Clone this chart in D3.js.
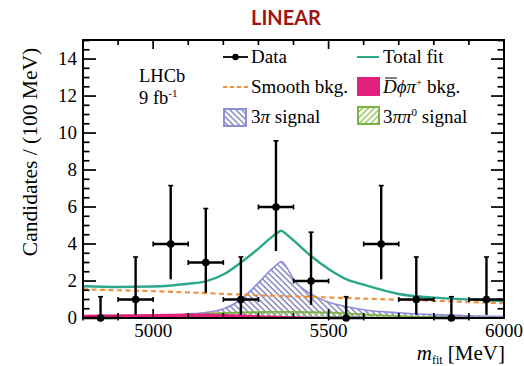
<!DOCTYPE html>
<html>
<head>
<meta charset="utf-8">
<script src="https://cdn.jsdelivr.net/npm/d3@7"></script>
<style>
body { margin: 0; background: #fff; }
text { font-family: "Liberation Serif", "Times New Roman", serif; }
</style>
</head>
<body>
<div class="canva"></div>
<script>
// data points (100 MeV bins)
const binCenters = [4850, 4950, 5050, 5150, 5250, 5350, 5450, 5550, 5650, 5750, 5850, 5950];
const counts     = [0, 1, 4, 3, 1, 6, 2, 0, 4, 1, 0, 1];
const errLow     = [0, 0.83, 1.91, 1.63, 0.83, 2.38, 1.29, 0, 1.91, 0.83, 0, 0.83];
const errHigh    = [1.15, 2.30, 3.16, 2.92, 2.30, 3.58, 2.64, 1.15, 3.16, 2.30, 1.15, 2.30];

// fit components
const massGrid   = [4800, 4900, 5000, 5100, 5150, 5200, 5250, 5300, 5330, 5350, 5365, 5380, 5400, 5450, 5500, 5550, 5600, 5700, 5800, 5900, 6000];
const totalFit   = [1.72, 1.68, 1.70, 1.85, 1.98, 2.35, 3.00, 3.75, 4.25, 4.55, 4.72, 4.52, 4.20, 3.35, 2.65, 2.10, 1.80, 1.30, 1.10, 1.00, 0.92];
const smoothBkg  = [1.55, 1.50, 1.45, 1.38, 1.35, 1.30, 1.27, 1.23, 1.21, 1.20, 1.19, 1.18, 1.17, 1.14, 1.11, 1.08, 1.05, 0.99, 0.93, 0.86, 0.80];
const sig3pi     = [0.03, 0.06, 0.12, 0.22, 0.30, 0.48, 1.00, 1.90, 2.50, 2.85, 3.05, 2.75, 2.10, 1.30, 0.85, 0.62, 0.45, 0.28, 0.18, 0.12, 0.08];
const sig3pipi0  = [0.02, 0.04, 0.08, 0.16, 0.22, 0.27, 0.30, 0.32, 0.33, 0.33, 0.33, 0.33, 0.33, 0.32, 0.30, 0.25, 0.20, 0.10, 0.05, 0.02, 0.01];
const dPhiPiBkg  = [0.18, 0.20, 0.22, 0.25, 0.24, 0.22, 0.19, 0.15, 0.13, 0.12, 0.11, 0.10, 0.09, 0.07, 0.05, 0.03, 0.00, 0.00, 0.00, 0.00, 0.00];

const yTicks = [0, 2, 4, 6, 8, 10, 12, 14];
const xTicks = [5000, 5500, 6000];

const svg = d3.select(".canva").append("svg")
  .attr("width", 524)
  .attr("height", 366);

const plot = {left: 83, right: 504, top: 40, bottom: 318};

const x = d3.scaleLinear().domain([4800, 6000]).range([plot.left, plot.right]);
const y = d3.scaleLinear().domain([0, 15.03]).range([plot.bottom, plot.top]);

// title
svg.append("text")
  .attr("x", 286).attr("y", 25)
  .attr("text-anchor", "middle")
  .style("font-family", "Lato, sans-serif")
  .style("font-weight", "bold")
  .style("font-size", "20px")
  .style("fill", "#a01414")
  .text("LINEAR");

// hatch patterns
const defs = svg.append("defs");
function hatch(id, color, angle) {
  const p = defs.append("pattern")
    .attr("id", id)
    .attr("patternUnits", "userSpaceOnUse")
    .attr("width", 4.2).attr("height", 4.2)
    .attr("patternTransform", `rotate(${angle})`);
  p.append("line")
    .attr("x1", 1).attr("y1", 0).attr("x2", 1).attr("y2", 4.2)
    .attr("stroke", color).attr("stroke-width", 1.3);
}
hatch("hatchPurple", "#7676b8", -45);
hatch("hatchGreen", "#8cc152", 45);

defs.append("clipPath").attr("id", "plotClip")
  .append("rect")
  .attr("x", plot.left).attr("y", plot.top)
  .attr("width", plot.right - plot.left).attr("height", plot.bottom - plot.top);

const g = svg.append("g").attr("clip-path", "url(#plotClip)");

const idx = d3.range(massGrid.length);
function area(vals) {
  return d3.area()
    .x(i => x(massGrid[i]))
    .y0(y(0))
    .y1(i => y(vals[i]))
    .curve(d3.curveMonotoneX);
}
function line(vals) {
  return d3.line()
    .x(i => x(massGrid[i]))
    .y(i => y(vals[i]))
    .curve(d3.curveMonotoneX);
}

// 3pi signal
g.append("path").attr("d", area(sig3pi)(idx))
  .attr("fill", "url(#hatchPurple)");
g.append("path").attr("d", line(sig3pi)(idx))
  .attr("fill", "none").attr("stroke", "#8e8ed6").attr("stroke-width", 1.6);

// 3pi pi0 signal
g.append("path").attr("d", area(sig3pipi0)(idx))
  .attr("fill", "url(#hatchGreen)");
g.append("path").attr("d", line(sig3pipi0)(idx))
  .attr("fill", "none").attr("stroke", "#7cb342").attr("stroke-width", 1.8);

// Dbar phi pi bkg
g.append("path").attr("d", area(dPhiPiBkg)(idx))
  .attr("fill", "#e0207a");

// smooth bkg
g.append("path").attr("d", line(smoothBkg)(idx))
  .attr("fill", "none").attr("stroke", "#f0903a")
  .attr("stroke-width", 2.2).attr("stroke-dasharray", "5,3.5");

// total fit
g.append("path").attr("d", line(totalFit)(idx))
  .attr("fill", "none").attr("stroke", "#2ba88a").attr("stroke-width", 2.4);

// data points with error bars
const pts = svg.append("g");
binCenters.forEach((m, i) => {
  const cx = x(m), cy = y(counts[i]);
  const xl = x(m - 50), xr = x(m + 50);
  const yl = y(counts[i] - errLow[i]), yh = y(counts[i] + errHigh[i]);
  pts.append("line").attr("x1", xl).attr("x2", xr).attr("y1", cy).attr("y2", cy)
    .attr("stroke", "#000").attr("stroke-width", 2.4);
  pts.append("line").attr("x1", cx).attr("x2", cx).attr("y1", yl).attr("y2", yh)
    .attr("stroke", "#000").attr("stroke-width", 2.4);
  // small end caps
  pts.append("line").attr("x1", cx - 2.5).attr("x2", cx + 2.5).attr("y1", yh).attr("y2", yh)
    .attr("stroke", "#000").attr("stroke-width", 1.6);
  pts.append("line").attr("x1", xl).attr("x2", xl).attr("y1", cy - 2.5).attr("y2", cy + 2.5)
    .attr("stroke", "#000").attr("stroke-width", 1.6);
  pts.append("line").attr("x1", xr).attr("x2", xr).attr("y1", cy - 2.5).attr("y2", cy + 2.5)
    .attr("stroke", "#000").attr("stroke-width", 1.6);
  pts.append("circle").attr("cx", cx).attr("cy", cy).attr("r", 3.8).attr("fill", "#000");
});

// frame and ticks
const axes = svg.append("g").attr("stroke", "#000");
axes.append("rect")
  .attr("x", plot.left).attr("y", plot.top)
  .attr("width", plot.right - plot.left).attr("height", plot.bottom - plot.top)
  .attr("fill", "none").attr("stroke-width", 2);

d3.range(0, 15.01, 0.5).forEach(v => {
  const major = v % 2 === 0;
  const len = major ? 13 : 6.5;
  axes.append("line").attr("x1", plot.left).attr("x2", plot.left + len)
    .attr("y1", y(v)).attr("y2", y(v)).attr("stroke-width", 1.7);
  axes.append("line").attr("x1", plot.right).attr("x2", plot.right - len)
    .attr("y1", y(v)).attr("y2", y(v)).attr("stroke-width", 1.7);
});
d3.range(4800, 6001, 100).forEach(v => {
  const major = v % 500 === 0;
  const len = major ? 9 : 5;
  axes.append("line").attr("x1", x(v)).attr("x2", x(v))
    .attr("y1", plot.bottom).attr("y2", plot.bottom - len).attr("stroke-width", 1.7);
  axes.append("line").attr("x1", x(v)).attr("x2", x(v))
    .attr("y1", plot.top).attr("y2", plot.top + len).attr("stroke-width", 1.7);
});

// tick labels
svg.append("g").selectAll("text").data(yTicks).enter().append("text")
  .attr("x", 77).attr("y", d => y(d) + 6)
  .attr("text-anchor", "end")
  .style("font-size", "19px")
  .text(d => d);
svg.append("g").selectAll("text").data(xTicks).enter().append("text")
  .attr("x", d => x(d)).attr("y", 337)
  .attr("text-anchor", "middle")
  .style("font-size", "19px")
  .text(d => d);

// axis titles
svg.append("text")
  .attr("transform", "translate(37,152) rotate(-90)")
  .attr("text-anchor", "middle")
  .style("font-size", "21.5px")
  .text("Candidates / (100 MeV)");

const xt = svg.append("text")
  .attr("x", 505).attr("y", 360)
  .attr("text-anchor", "end")
  .style("font-size", "21px");
xt.append("tspan").style("font-style", "italic").text("m");
xt.append("tspan").attr("dy", 4).style("font-size", "12px").text("fit");
xt.append("tspan").attr("dy", -4).text(" [MeV]");

// LHCb label
svg.append("text").attr("x", 139).attr("y", 82).style("font-size", "18.5px").text("LHCb");
const lumi = svg.append("text").attr("x", 139).attr("y", 104).style("font-size", "18.5px");
lumi.append("tspan").text("9 fb");
lumi.append("tspan").attr("dy", -7).style("font-size", "11px").text("-1");

// legend
const leg = svg.append("g").style("font-size", "19px");
const rowY = [57, 87, 117];
const col1 = 223, col2 = 357;

leg.append("line").attr("x1", col1).attr("x2", col1 + 25).attr("y1", rowY[0]).attr("y2", rowY[0])
  .attr("stroke", "#000").attr("stroke-width", 1.8);
leg.append("circle").attr("cx", col1 + 12.5).attr("cy", rowY[0]).attr("r", 3.2).attr("fill", "#000");
leg.append("text").attr("x", col1 + 28).attr("y", rowY[0] + 6).text("Data");

leg.append("line").attr("x1", col1).attr("x2", col1 + 25).attr("y1", rowY[1]).attr("y2", rowY[1])
  .attr("stroke", "#f0903a").attr("stroke-width", 1.8).attr("stroke-dasharray", "4,3");
leg.append("text").attr("x", col1 + 28).attr("y", rowY[1] + 6).text("Smooth bkg.");

leg.append("rect").attr("x", col1 + 1).attr("y", rowY[2] - 8).attr("width", 22).attr("height", 17)
  .attr("fill", "url(#hatchPurple)").attr("stroke", "#8e8ed6").attr("stroke-width", 2);
const t3 = leg.append("text").attr("x", col1 + 28).attr("y", rowY[2] + 6);
t3.append("tspan").text("3");
t3.append("tspan").style("font-style", "italic").text("π");
t3.append("tspan").text(" signal");

leg.append("line").attr("x1", col2).attr("x2", col2 + 22).attr("y1", rowY[0]).attr("y2", rowY[0])
  .attr("stroke", "#2ba88a").attr("stroke-width", 2);
leg.append("text").attr("x", col2 + 26).attr("y", rowY[0] + 6).text("Total fit");

leg.append("rect").attr("x", col2).attr("y", rowY[1] - 10).attr("width", 23).attr("height", 19)
  .attr("fill", "#e0207a");
const dt = leg.append("text").attr("x", col2 + 26).attr("y", rowY[1] + 6);
dt.append("tspan").style("font-style", "italic").text("D");
dt.append("tspan").style("font-style", "italic").text("ϕπ");
dt.append("tspan").attr("dy", -7).style("font-size", "11px").text("+");
dt.append("tspan").attr("dy", 7).text(" bkg.");
// overline on D
leg.append("line").attr("x1", col2 + 28).attr("x2", col2 + 40)
  .attr("y1", rowY[1] - 9).attr("y2", rowY[1] - 9)
  .attr("stroke", "#000").attr("stroke-width", 1);

leg.append("rect").attr("x", col2 + 1).attr("y", rowY[2] - 10).attr("width", 21).attr("height", 17)
  .attr("fill", "url(#hatchGreen)").attr("stroke", "#7cb342").attr("stroke-width", 2);
const t4 = leg.append("text").attr("x", col2 + 26).attr("y", rowY[2] + 6);
t4.append("tspan").text("3");
t4.append("tspan").style("font-style", "italic").text("ππ");
t4.append("tspan").attr("dy", -7).style("font-size", "11px").text("0");
t4.append("tspan").attr("dy", 7).text(" signal");
</script>
</body>
</html>
